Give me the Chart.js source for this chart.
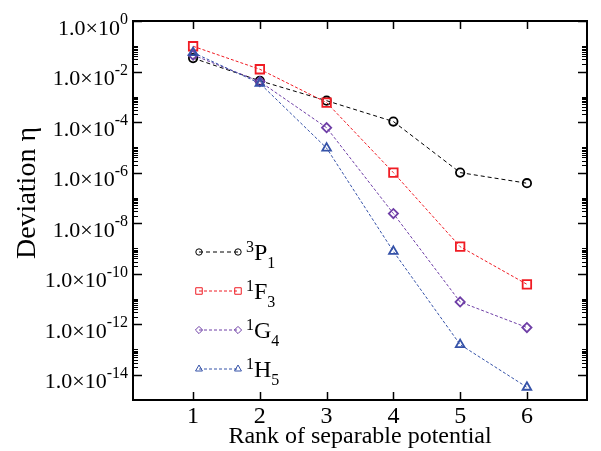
<!DOCTYPE html>
<html>
<head>
<meta charset="utf-8">
<script src="https://cdn.jsdelivr.net/npm/chart.js@4.4.1/dist/chart.umd.min.js"></script>
<style>
  html, body { margin: 0; padding: 0; background: #fff; }
  #wrap { width: 601px; height: 451px; }
</style>
</head>
<body>
<div id="wrap"><canvas id="chart" width="601" height="451"></canvas></div>
<script>
// Deviation eta per partial wave, versus the rank of the separable potential
const ranks = [1, 2, 3, 4, 5, 6];
const devP1 = [3.4e-2, 4.3e-3, 7.0e-4, 1.05e-4, 1.0e-6, 3.8e-7];
const devF3 = [1.0e-1, 1.23e-2, 5.9e-4, 1.0e-6, 1.17e-9, 3.8e-11];
const devG4 = [4.5e-2, 4.0e-3, 6.0e-5, 2.4e-8, 7.6e-12, 7.4e-13];
const devH5 = [5.6e-2, 3.4e-3, 9.3e-6, 7.6e-10, 1.56e-13, 3.2e-15];

// major y ticks: exponents of 10, labelled as 1.0x10^e
const yMajorExp = [0, -2, -4, -6, -8, -10, -12, -14];
const xTicks = [1, 2, 3, 4, 5, 6];

// legend labels: [superscript, letter, subscript]
const waveLabels = [['3', 'P', '1'], ['1', 'F', '3'], ['1', 'G', '4'], ['1', 'H', '5']];

const SERIF = '"Liberation Serif", "DejaVu Serif", "Times New Roman", serif';

const series = [
  { data: devP1, color: '#000000', style: 'circle', radius: 4.2, legendRadius: 3.2, dash: [4, 3] },
  { data: devF3, color: '#f01c24', style: 'rect', radius: 6, legendRadius: 4.6, dash: [3, 2] },
  { data: devG4, color: '#6e3ea6', style: 'rectRot', radius: 4.6, legendRadius: 3.6, dash: [3, 2] },
  { data: devH5, color: '#3552a8', style: 'triangle', radius: 5, legendRadius: 4, dash: [3, 2] }
];

const datasets = series.map((s, i) => ({
  label: waveLabels[i].join(''),
  data: ranks.map((r, k) => ({ x: r, y: s.data[k] })),
  borderColor: s.color,
  borderWidth: 1,
  borderDash: s.dash,
  pointStyle: s.style,
  pointRadius: s.radius,
  pointBorderColor: s.color,
  pointBackgroundColor: 'rgba(0,0,0,0)',
  pointBorderWidth: 1.8,
  tension: 0,
  order: series.length - i
}));

// frame, inward ticks, superscripted labels and the legend, all drawn on the canvas
const axesPlugin = {
  id: 'graceAxes',
  afterDraw(chart) {
    const ctx = chart.ctx;
    const { left, right, top, bottom } = chart.chartArea;
    const xs = chart.scales.x, ys = chart.scales.y;
    ctx.save();
    ctx.strokeStyle = '#000';
    ctx.fillStyle = '#000';

    // x ticks, top and bottom
    ctx.lineWidth = 1.5;
    xTicks.forEach(v => {
      const px = Math.round(xs.getPixelForValue(v)) + 0.5;
      ctx.beginPath();
      ctx.moveTo(px, bottom); ctx.lineTo(px, bottom - 8);
      ctx.moveTo(px, top); ctx.lineTo(px, top + 8);
      ctx.stroke();
    });

    // y major ticks, plus minor ticks at j*10^e just above each major
    yMajorExp.forEach(e => {
      const py = Math.round(ys.getPixelForValue(Math.pow(10, e))) + 0.5;
      ctx.lineWidth = 1.5;
      ctx.beginPath();
      ctx.moveTo(left, py); ctx.lineTo(left + 9, py);
      ctx.moveTo(right, py); ctx.lineTo(right - 9, py);
      ctx.stroke();
      if (e === 0) return;
      ctx.lineWidth = 1;
      for (let j = 2; j <= 10; j++) {
        const my = Math.round(ys.getPixelForValue(j * Math.pow(10, e))) + 0.5;
        ctx.beginPath();
        ctx.moveTo(left, my); ctx.lineTo(left + 5, my);
        ctx.moveTo(right, my); ctx.lineTo(right - 5, my);
        ctx.stroke();
      }
    });

    // frame
    ctx.lineWidth = 2;
    ctx.strokeRect(left, top, right - left, bottom - top);

    // x tick labels
    ctx.font = '24px ' + SERIF;
    ctx.textAlign = 'center';
    ctx.textBaseline = 'alphabetic';
    xTicks.forEach(v => ctx.fillText(String(v), xs.getPixelForValue(v), 423));

    // y tick labels: 1.0x10 with the exponent as superscript, right aligned
    yMajorExp.forEach(e => {
      const py = ys.getPixelForValue(Math.pow(10, e));
      ctx.font = '16px ' + SERIF;
      const sup = String(e);
      const supW = ctx.measureText(sup).width;
      ctx.textAlign = 'right';
      ctx.fillText(sup, 128, py + 3);
      ctx.font = '22px ' + SERIF;
      ctx.fillText('1.0\u00d710', 128 - supW, py + 13.5);
    });

    // axis titles
    ctx.font = '24px ' + SERIF;
    ctx.textAlign = 'center';
    ctx.fillText('Rank of separable potential', (left + right) / 2, 443);
    ctx.save();
    ctx.translate(35, 193);
    ctx.rotate(-Math.PI / 2);
    ctx.font = '28px ' + SERIF;
    ctx.fillText('Deviation \u03b7', 0, 0);
    ctx.restore();

    // legend
    const rowY = [252, 291, 330, 369];
    series.forEach((s, i) => {
      const y = rowY[i];
      ctx.save();
      ctx.strokeStyle = s.color;
      ctx.lineWidth = 1;
      ctx.setLineDash(s.dash);
      ctx.beginPath();
      ctx.moveTo(199, y); ctx.lineTo(238, y);
      ctx.stroke();
      ctx.setLineDash([]);
      ctx.fillStyle = 'rgba(0,0,0,0)';
      [199, 238].forEach(px => {
        Chart.helpers.drawPoint(ctx, { pointStyle: s.style, radius: s.legendRadius, borderWidth: 1.6 }, px, y);
      });
      ctx.restore();

      const [sup, letter, sub] = waveLabels[i];
      ctx.textAlign = 'left';
      ctx.font = '16px ' + SERIF;
      ctx.fillText(sup, 246, y);
      const supW = ctx.measureText(sup).width;
      ctx.font = '24px ' + SERIF;
      ctx.fillText(letter, 246 + supW, y + 8);
      const letterW = ctx.measureText(letter).width;
      ctx.font = '16px ' + SERIF;
      ctx.fillText(sub, 246 + supW + letterW, y + 16);
    });
    ctx.restore();
  }
};

new Chart(document.getElementById('chart').getContext('2d'), {
  type: 'line',
  data: { datasets },
  plugins: [axesPlugin],
  options: {
    responsive: false,
    animation: false,
    devicePixelRatio: 1,
    layout: { padding: { left: 133, top: 21, right: 14, bottom: 51 } },
    plugins: { legend: { display: false }, tooltip: { enabled: false } },
    scales: {
      x: { type: 'linear', min: 0.1, max: 6.9, display: false },
      y: { type: 'logarithmic', min: 1e-15, max: 1, display: false }
    }
  }
});
</script>
</body>
</html>
